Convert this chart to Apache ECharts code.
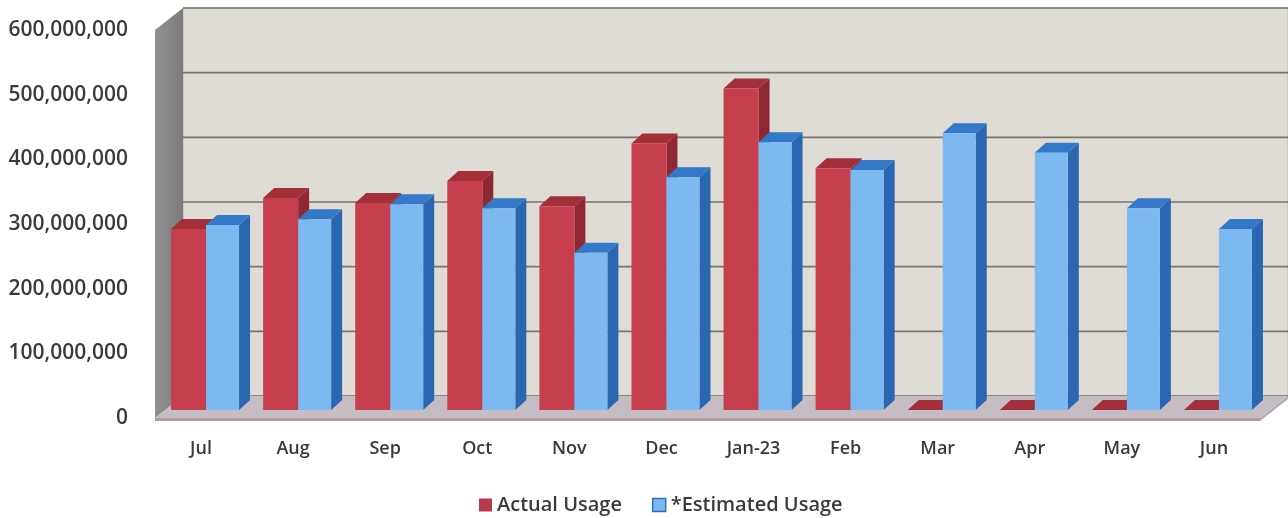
<!DOCTYPE html>
<html>
<head>
<meta charset="utf-8">
<script src="https://cdn.jsdelivr.net/npm/echarts@6/dist/echarts.min.js"></script>
<style>
html,body{margin:0;padding:0;background:#fff;}
#chart{width:1288px;height:518px;}
</style>
</head>
<body>
<div id="chart"></div>
<script>
const categories = ['Jul','Aug','Sep','Oct','Nov','Dec','Jan-23','Feb','Mar','Apr','May','Jun'];
const actualUsage = [280000000, 328000000, 320000000, 354000000, 315000000, 412000000, 497000000, 374000000, 0, 0, 0, 0];
const estimatedUsage = [286000000, 295000000, 318000000, 312000000, 243000000, 360000000, 414000000, 371000000, 428000000, 398000000, 312000000, 280000000];
const yTickValues = [0, 100000000, 200000000, 300000000, 400000000, 500000000, 600000000];

const FONT = '"Open Sans", "DejaVu Sans", sans-serif';
const WALL_DX = 28, WALL_DY = -22;   // back wall offset
const BAR_SHIFT = 8;                  // bars sit inside the floor
const BAR_DX = 11, BAR_DY = -10;      // bar depth

function wallRender(params, api) {
  const cs = params.coordSys;
  const x0 = cs.x, x1 = cs.x + cs.width;
  const yT = api.coord([0, yTickValues[yTickValues.length - 1]])[1];
  const yB = api.coord([0, 0])[1];
  const children = [];
  children.push({type:'rect', shape:{x:x0+WALL_DX, y:yT+WALL_DY, width:x1-x0, height:yB-yT},
    style:{fill:'#dfdcd5', stroke:'#b9b5ae', lineWidth:1}});
  yTickValues.forEach(function(v){
    const y = api.coord([0, v])[1] + WALL_DY;
    children.push({type:'line', shape:{x1:x0+WALL_DX, y1:y, x2:x1+WALL_DX, y2:y},
      style:{stroke:'#7a746e', lineWidth:1.6}});
  });
  children.push({type:'polygon', shape:{points:[[x0, yB],[x0, yT],[x0+WALL_DX, yT+WALL_DY],[x0+WALL_DX, yB+WALL_DY]]},
    style:{fill:{type:'linear', x:0, y:0, x2:1, y2:0, colorStops:[{offset:0, color:'#929193'},{offset:1, color:'#7b7a7d'}]}}});
  children.push({type:'polygon', shape:{points:[[x0, yB],[x1, yB],[x1+WALL_DX, yB+WALL_DY],[x0+WALL_DX, yB+WALL_DY]]},
    style:{fill:'#c6bcc3'}});
  children.push({type:'rect', shape:{x:x0, y:yB, width:x1-x0, height:3}, style:{fill:'#a99ea6'}});
  children.push({type:'polygon', shape:{points:[[x1, yB],[x1+WALL_DX, yB+WALL_DY],[x1+WALL_DX, yB+WALL_DY+3],[x1, yB+3]]}, style:{fill:'#b3a9b0'}});
  return {type:'group', children:children};
}

function barRender(offL, offR, cFront, cTop, cSide) {
  return function(params, api) {
    const cat = api.value(0), v = api.value(1);
    const p = api.coord([cat, v]);
    const p0 = api.coord([cat, 0]);
    const L = p[0] + offL, R = p[0] + offR;
    const yv = p[1] - BAR_SHIFT, yb = p0[1] - BAR_SHIFT;
    return {type:'group', children:[
      {type:'polygon', shape:{points:[[R, yv],[R+BAR_DX, yv+BAR_DY],[R+BAR_DX, yb+BAR_DY],[R, yb]]}, style:{fill:cSide}},
      {type:'polygon', shape:{points:[[L, yv],[R, yv],[R+BAR_DX, yv+BAR_DY],[L+BAR_DX, yv+BAR_DY]]}, style:{fill:cTop}},
      {type:'rect', shape:{x:L, y:yv, width:R-L, height:yb-yv}, style:{fill:cFront}}
    ]};
  };
}

const chart = echarts.init(document.getElementById('chart'), null, {renderer:'canvas'});
chart.setOption({
  animation:false,
  backgroundColor:'#ffffff',
  grid:{left:155, right:28, top:30, bottom:100, containLabel:false},
  xAxis:{type:'category', data:categories,
    axisLine:{show:false}, axisTick:{show:false},
    axisLabel:{margin:22, color:'#3a3a3a', fontFamily:FONT, fontSize:18, fontWeight:600}},
  yAxis:{type:'value', min:0, max:600000000, interval:100000000,
    axisLine:{show:false}, axisTick:{show:false}, splitLine:{show:false},
    axisLabel:{margin:27, color:'#3a3a3a', fontFamily:FONT, fontSize:21, fontWeight:600,
      formatter:function(v){ return v.toLocaleString('en-US'); }}},
  legend:{left:474, top:490, itemWidth:13, itemHeight:13, itemGap:30,
    textStyle:{color:'#3a3a3a', fontFamily:FONT, fontSize:20, fontWeight:600},
    data:[
      {name:'Actual Usage', icon:'rect', itemStyle:{color:'#b83a4a'}},
      {name:'*Estimated Usage', icon:'rect', itemStyle:{color:'#7ab8f0', borderColor:'#2f6fbe', borderWidth:1.5}}
    ]},
  series:[
    {type:'custom', name:'walls', z:1, silent:true, renderItem:wallRender, data:[[0,0]], encode:{x:0, y:1}},
    {type:'custom', name:'Actual Usage', z:2, itemStyle:{color:'#c8414f'},
      renderItem:barRender(-30, 5, '#c63f4f', '#a22f3a', '#8f2832'),
      data:actualUsage.map(function(v,i){return [i,v];}), encode:{x:0, y:1}},
    {type:'custom', name:'*Estimated Usage', z:3, itemStyle:{color:'#7ab8f0'},
      renderItem:barRender(5, 38, '#7db9f1', '#3379c8', '#2b66b0'),
      data:estimatedUsage.map(function(v,i){return [i,v];}), encode:{x:0, y:1}}
  ]
});
</script>
</body>
</html>
